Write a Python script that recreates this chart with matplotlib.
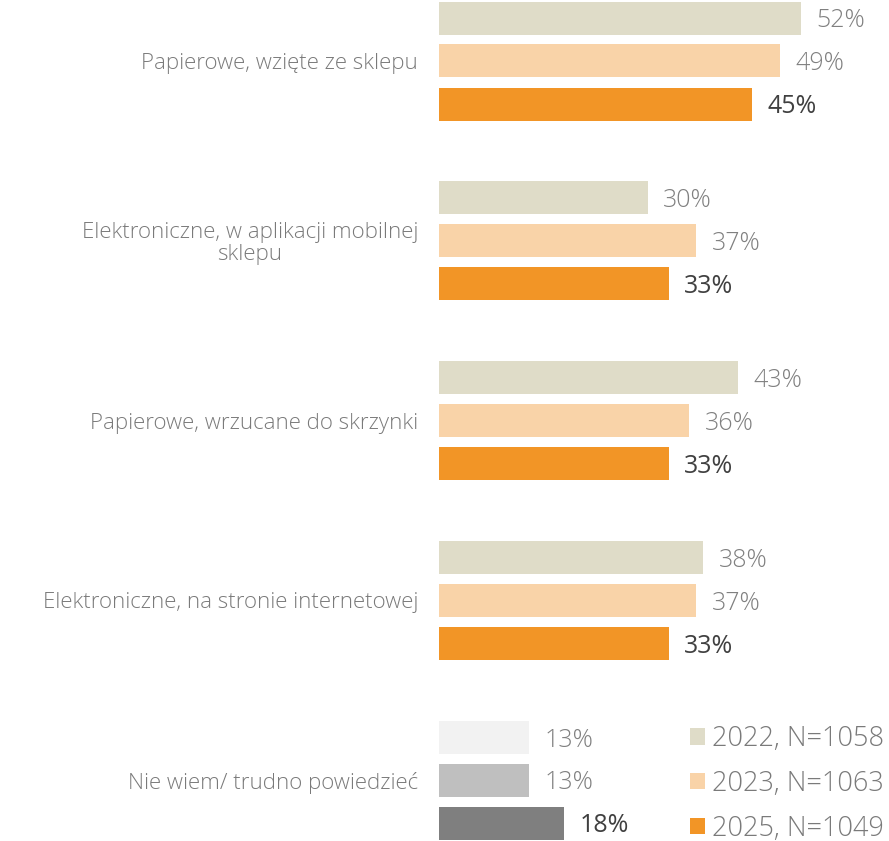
import matplotlib
matplotlib.use("Agg")
import matplotlib.pyplot as plt
from matplotlib.patches import Patch

plt.rcParams['font.family'] = ['Open Sans', 'DejaVu Sans']

categories = [
    "Papierowe, wzięte ze sklepu",
    "Elektroniczne, w aplikacji mobilnej\nsklepu",
    "Papierowe, wrzucane do skrzynki",
    "Elektroniczne, na stronie internetowej",
    "Nie wiem/ trudno powiedzieć",
]
series_labels = ["2022, N=1058", "2023, N=1063", "2025, N=1049"]
values_2022 = [52, 30, 43, 38, 13]
values_2023 = [49, 37, 36, 37, 13]
values_2025 = [45, 33, 33, 33, 18]

series = [values_2022, values_2023, values_2025]
colors = ["#DFDCC8", "#F9D3A8", "#F29526"]
grey_colors = ["#F2F2F2", "#BFBFBF", "#7F7F7F"]

fig = plt.figure(figsize=(8.89, 8.41), dpi=100)
ax = fig.add_axes([439 / 889, 0, 1 - 439 / 889, 1])

offsets = [-0.238, 0.0, 0.24]
bar_h = 0.184
n = len(categories)

for s, vals in enumerate(series):
    for i, v in enumerate(vals):
        col = grey_colors[s] if i == n - 1 else colors[s]
        y = i + offsets[s]
        ax.barh(y, v, height=bar_h, color=col, edgecolor='none')
        txt_col = "#404040" if s == 2 else "#808080"
        weight = "normal" if s == 2 else "light"
        ax.annotate(f"{v}%", xy=(v, y), xytext=(11, -2), textcoords="offset points",
                    ha="left", va="center", fontsize=18, color=txt_col, fontweight=weight)

ax.set_xlim(0, 64.7)
ax.set_ylim(4.339, -0.339)
ax.set_yticks(range(n))
ax.set_yticklabels(categories, fontsize=16, color="#7A7A7A", fontweight="light",
                   multialignment="center", linespacing=1.05)
ax.tick_params(axis='y', length=0, pad=15)
ax.set_xticks([])
for sp in ax.spines.values():
    sp.set_visible(False)

handles = [Patch(facecolor=c, edgecolor='none') for c in colors]
leg = ax.legend(handles, series_labels, loc="lower right",
                bbox_to_anchor=(0.9944, -0.0018), bbox_transform=fig.transFigure,
                frameon=False, fontsize=19.5, handlelength=0.55, handleheight=0.55,
                handletextpad=0.25, labelspacing=0.62, borderpad=0.0,
                borderaxespad=0.0)
for t in leg.get_texts():
    t.set_color("#7A7A7A")
    t.set_fontweight("light")

fig.savefig("out.png", dpi=100)
